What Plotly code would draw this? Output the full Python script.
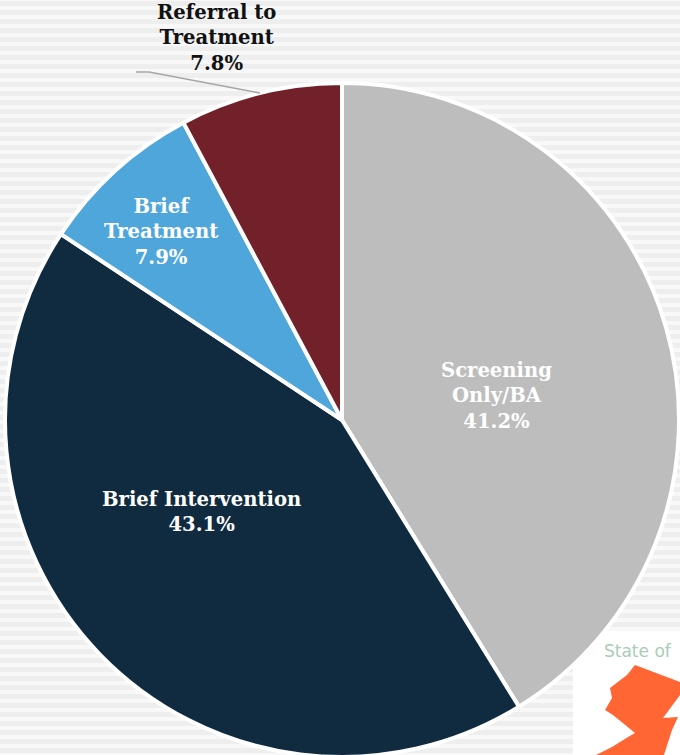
import plotly.graph_objects as go

segments = ["Screening Only/BA", "Brief Intervention", "Brief Treatment", "Referral to Treatment"]
values = [41.2, 43.1, 7.9, 7.8]
colors = ["#BDBDBD", "#102B3F", "#4FA6DB", "#72202A"]

W, H = 680, 758  # canvas runs a little past the 755 px window: the pie is cut at the bottom
px = lambda x: x / W
py = lambda y: 1 - y / H

shapes = []
for y in range(-3, H, 9):
    shapes.append(dict(type="rect", xref="paper", yref="paper", x0=0, x1=1,
                       y0=py(y), y1=py(y + 4), fillcolor="#F8F8F8",
                       line_width=0, layer="below"))
# logo panel
shapes.append(dict(type="rect", xref="paper", yref="paper", x0=px(573), x1=1, y0=0, y1=py(631),
                   fillcolor="white", line_width=0, layer="below"))
nj = [(635,665),(680,682),(680,695),(663,718),(678,717),(672,730),(663,758),(590,758),(612,747),
      (628,737),(635,733),(613,715),(605,710),(612,698),(610,688),(627,675)]
shapes.append(dict(type="path", xref="paper", yref="paper",
                   path="M " + " L ".join(f"{px(x)} {py(y)}" for x, y in nj) + " Z",
                   fillcolor="#FF6633", line_width=0, layer="below"))
# leader line
shapes.append(dict(type="path", xref="paper", yref="paper",
                   path=f"M {px(136)} {py(72)} L {px(149)} {py(72)} L {px(260)} {py(93)}",
                   line=dict(color="#A6A6A6", width=1.5)))

fig = go.Figure(go.Pie(
    labels=segments, values=values, sort=False, direction="clockwise", rotation=0,
    marker=dict(colors=colors, line=dict(color="white", width=4)),
    textinfo="none",
    domain=dict(x=[px(4), px(680)], y=[py(757), py(83)]),
    showlegend=False, hoverinfo="skip",
))

FONT = "DejaVu Serif"
SIZE = 19.6
def note(text, x, y, color):
    return dict(text=f"<b>{text}</b>", x=px(x), y=py(y), xref="paper", yref="paper",
                xanchor="center", yanchor="middle", showarrow=False,
                font=dict(family=FONT, size=SIZE, color=color))

fig.update_layout(
    width=W, height=H, margin=dict(l=0, r=0, t=0, b=0),
    paper_bgcolor="#EEEEEE", shapes=shapes,
    annotations=[
        note("Referral to<br>Treatment<br>7.8%", 217, 38, "#111111"),
        note("Brief<br>Treatment<br>7.9%", 161, 232, "white"),
        note("Screening<br>Only/BA<br>41.2%", 497, 396, "white"),
        note("Brief Intervention<br>43.1%", 201, 512, "white"),
        dict(text="State of", x=px(602), y=py(651), xref="paper", yref="paper", xanchor="left",
             yanchor="middle", showarrow=False,
             font=dict(family="DejaVu Sans", size=17, color="#A9CDB5")),
    ],
)
fig.write_html("out.html", config={"displayModeBar": False},
               post_script="document.body.style.margin='0';document.documentElement.style.overflow='hidden';document.body.style.overflow='hidden';")
